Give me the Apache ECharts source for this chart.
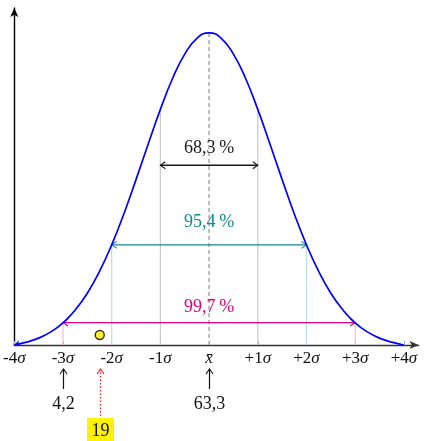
<!DOCTYPE html>
<html><head><meta charset="utf-8">
<script src="https://cdn.jsdelivr.net/npm/echarts@6/dist/echarts.min.js"></script>
<style>html,body{margin:0;padding:0;background:#fff}#c{width:424px;height:441px}</style>
</head><body><div id="c"></div>
<script>
// ---- data ----
const sigmaTicks = [-4, -3, -2, -1, 0, 1, 2, 3, 4];
const curveX = [-4, -3.75, -3.5, -3.25, -3, -2.75, -2.5, -2.25, -2, -1.75, -1.5, -1.25, -1, -0.75, -0.5, -0.25, 0,
                0.25, 0.5, 0.75, 1, 1.25, 1.5, 1.75, 2, 2.25, 2.5, 2.75, 3, 3.25, 3.5, 3.75, 4];
const curveY = [0, 0.009, 0.022, 0.042, 0.071, 0.112, 0.166, 0.236, 0.321, 0.42, 0.53, 0.644, 0.755, 0.854, 0.932, 0.983, 1,
                0.983, 0.932, 0.854, 0.755, 0.644, 0.53, 0.42, 0.321, 0.236, 0.166, 0.112, 0.071, 0.042, 0.022, 0.009, 0];
const guideX = [-3, -2, -1, 1, 2, 3];
const guideTop = [0.072, 0.321, 0.755, 0.755, 0.321, 0.072];
const bandLabels = ['68,3\u202f%', '95,4\u202f%', '99,7\u202f%'];
const bandSigma = [1, 2, 3];
const bandLevel = [0.576, 0.321, 0.072];
const bandLabelLevel = [0.63, 0.394, 0.122];
const markerPoint = [[-2.245, 0.032]];
const calloutX = [-3, 0, -2.245];
const calloutText = ['4,2', '63,3', '19'];

// ---- styles ----
const serif = '"Liberation Serif", "DejaVu Serif", serif';
const bandColors = ['#1a1a1a', '#12898a', '#e5007e'];
const guideColors = { 1: '#c9c9c9', 2: '#bfe0e0', 3: '#f7b9d8' };

function arrowHead(x, y, dir, color) {
  const L = 5, W = 3.5;
  let pts;
  if (dir === 'left') pts = [[x + L, y - W], [x, y], [x + L, y + W]];
  else if (dir === 'right') pts = [[x - L, y - W], [x, y], [x - L, y + W]];
  else pts = [[x - W, y + L], [x, y], [x + W, y + L]];
  return { type: 'polyline', shape: { points: pts }, style: { stroke: color, fill: null, lineWidth: 1.1 } };
}

const chart = echarts.init(document.getElementById('c'), null, { renderer: 'canvas' });
chart.setOption({
  animation: false,
  backgroundColor: '#fff',
  grid: { left: 13, right: 5.5, top: 8, bottom: 96 },
  xAxis: {
    type: 'value', min: -4, max: 4.3, interval: 1,
    axisLine: { show: true, onZero: false, lineStyle: { color: '#333', width: 1.4 }, symbol: ['none', 'arrow'], symbolSize: [6, 9] },
    axisTick: { show: true, inside: true, length: 4, lineStyle: { color: '#aaa' }, customValues: sigmaTicks },
    splitLine: { show: false },
    axisLabel: {
      customValues: sigmaTicks, margin: 5, showMinLabel: true, showMaxLabel: true,
      formatter: function (v) {
        if (v === 0) return '{i|x\u0304}';
        return '{n|' + (v > 0 ? '+' : '-') + Math.abs(v) + '}{i|\u03c3}';
      },
      rich: {
        n: { fontFamily: serif, fontSize: 17, color: '#111' },
        i: { fontFamily: serif, fontSize: 17, fontStyle: 'italic', color: '#111' }
      }
    }
  },
  yAxis: {
    type: 'value', min: 0, max: 1.08,
    axisLine: { show: true, onZero: false, lineStyle: { color: '#000', width: 1.4 }, symbol: ['none', 'arrow'], symbolSize: [6, 9] },
    axisTick: { show: false }, axisLabel: { show: false }, splitLine: { show: false }
  },
  series: [
    { // guide lines
      type: 'custom', z: 1,
      data: guideX.map((x, i) => [x, guideTop[i]]),
      renderItem: function (params, api) {
        const x = api.value(0), top = api.value(1);
        const p0 = api.coord([x, 0]), p1 = api.coord([x, top]);
        return { type: 'line', shape: { x1: p0[0], y1: p0[1], x2: p1[0], y2: p1[1] },
          style: { stroke: guideColors[Math.abs(x)], lineWidth: 1.2 } };
      }
    },
    { // center dashed line
      type: 'custom', z: 1,
      data: [[0, 1]],
      renderItem: function (params, api) {
        const p0 = api.coord([api.value(0), 0]), p1 = api.coord([api.value(0), api.value(1)]);
        return { type: 'line', shape: { x1: p0[0], y1: p0[1], x2: p1[0], y2: p1[1] },
          style: { stroke: '#a8a8a8', lineWidth: 1.5, lineDash: [4, 3] } };
      }
    },
    { // bands
      type: 'custom', z: 3,
      data: bandSigma.map((s, i) => [s, bandLevel[i], bandLabelLevel[i], i]),
      renderItem: function (params, api) {
        const s = api.value(0), lv = api.value(1), tl = api.value(2), i = api.value(3);
        const c = bandColors[i];
        const a = api.coord([-s, lv]), b = api.coord([s, lv]), t = api.coord([0, tl]);
        return { type: 'group', children: [
          { type: 'line', shape: { x1: a[0], y1: a[1], x2: b[0], y2: b[1] }, style: { stroke: c, lineWidth: 1.3 } },
          arrowHead(a[0], a[1], 'left', c),
          arrowHead(b[0], b[1], 'right', c),
          { type: 'text', x: t[0], y: t[1], style: { text: bandLabels[i], fill: c, font: '18px ' + serif, align: 'center', verticalAlign: 'middle' } }
        ] };
      }
    },
    { // curve
      type: 'line', z: 4, smooth: 0.5, showSymbol: true, symbol: 'none',
      lineStyle: { color: '#0000ff', width: 1.7 }, itemStyle: { color: '#0000ff' },
      data: curveX.map((x, i) => i === 0 ? { value: [x, curveY[i]], symbol: 'arrow', symbolSize: [4, 6], symbolRotate: 112 } : [x, curveY[i]])
    },
    { // marker point
      type: 'scatter', z: 5, symbolSize: 9,
      itemStyle: { color: '#ffee00', borderColor: '#000', borderWidth: 1.4 },
      data: markerPoint
    },
    { // callouts under the axis
      type: 'custom', z: 5, clip: false,
      data: calloutX.map((x, i) => [x, i]),
      renderItem: function (params, api) {
        const x = api.value(0), i = api.value(1);
        const p = api.coord([x, 0]);
        const px = Math.round(p[0]) + 0.5;
        const top = p[1] + 24;
        if (i === 2) {
          return { type: 'group', children: [
            { type: 'line', shape: { x1: px, y1: top, x2: px, y2: p[1] + 73 }, style: { stroke: '#ff2020', lineWidth: 1.3, lineDash: [1.5, 2] } },
            arrowHead(px, top, 'up', '#ff2020'),
            { type: 'rect', shape: { x: px - 13.5, y: p[1] + 73, width: 27, height: 24 }, style: { fill: '#fff200' } },
            { type: 'text', x: px, y: p[1] + 86, style: { text: calloutText[i], fill: '#111', font: '18px ' + serif, align: 'center', verticalAlign: 'middle' } }
          ] };
        }
        return { type: 'group', children: [
          { type: 'line', shape: { x1: px, y1: top, x2: px, y2: p[1] + 44 }, style: { stroke: '#111', lineWidth: 1.2 } },
          arrowHead(px, top, 'up', '#111'),
          { type: 'text', x: px, y: p[1] + 59, style: { text: calloutText[i], fill: '#111', font: '18px ' + serif, align: 'center', verticalAlign: 'middle' } }
        ] };
      }
    }
  ]
});
</script></body></html>
